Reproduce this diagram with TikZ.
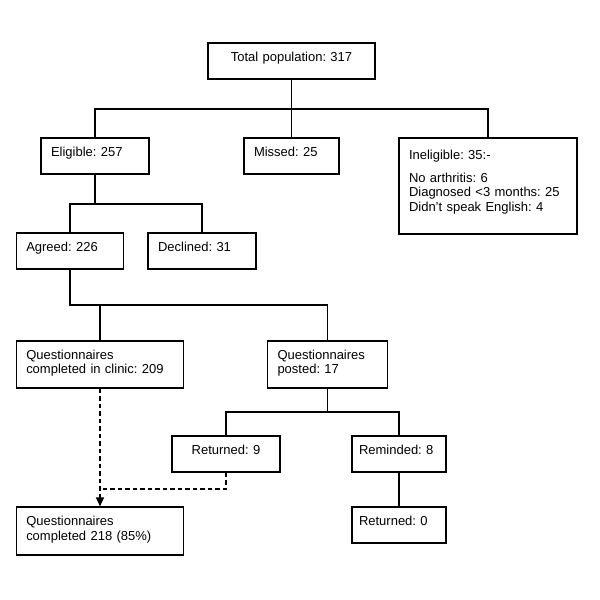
\documentclass[tikz,border=0pt]{standalone}
\usepackage{fontspec}
\setmainfont{Liberation Sans}
\usepackage{tikz}
\usetikzlibrary{arrows.meta}
\frenchspacing
\tikzstyle{flowbox} = [draw=black, line width=1.2pt, rectangle,
inner xsep=10pt, inner ysep=0pt, align=left, font=\fontsize{13}{14.5}\selectfont]
\tikzstyle{onebox} = [flowbox, minimum height=36pt, text height=9.5pt, text depth=8.5pt]
\tikzstyle{twobox} = [flowbox, minimum height=47pt, text depth=19.5pt]
\tikzstyle{link} = [line width=1.2pt]
\tikzstyle{dashlink} = [line width=1.2pt, dash pattern=on 4.5pt off 3pt]

\begin{document}
\begin{tikzpicture}[x=1pt, y=-1pt]
    \useasboundingbox (0,0) rectangle (600,600);
    \node[onebox, text width=147pt, align=center] (total) at (291.5,61) {Total population: 317};
    \node[onebox, text width=88pt] (eligible) at (95,156) {Eligible: 257};
    \node[onebox, text width=75pt] (missed) at (291.5,156) {Missed: 25};
    \node[flowbox, text width=158pt, minimum height=96pt, text depth=62pt] (inelig) at (488,186)
        {Ineligible: 35:-\\[8pt]No arthritis: 6\\Diagnosed <3 months: 25\\Didn’t speak English: 4};
    \node[onebox, text width=87.5pt] (agreed) at (70,251) {Agreed: 226};
    \node[onebox, text width=88pt] (declined) at (202,251) {Declined: 31};
    \node[twobox, text width=147.5pt] (clinic) at (100,364.5) {Questionnaires\\completed in clinic: 209};
    \node[twobox, text width=100pt] (posted) at (327.5,364.5) {Questionnaires\\posted: 17};
    \node[onebox, text width=88pt, align=center] (ret9) at (226,454) {Returned: 9};
    \node[onebox, text width=80pt, inner xsep=7pt] (remind) at (399,454) {Reminded: 8};
    \node[onebox, text width=80pt, inner xsep=7pt] (ret0) at (399,525) {Returned: 0};
    \node[twobox, text width=147.5pt, minimum height=48pt] (final) at (100,531) {Questionnaires\\completed 218 (85\%)};

    \coordinate (bar1) at (0,109);
    \coordinate (bar2) at (0,204);
    \coordinate (bar3) at (0,305);
    \coordinate (bar4) at (0,412);
    \coordinate (bar5) at (0,489);

    \draw[link] (total.south) -- (total.south |- bar1);
    \draw[link] (eligible.north) |- (inelig.north |- bar1) -- (inelig.north);
    \draw[link] (missed.north) -- (missed.north |- bar1);
    \draw[link] (eligible.south) -- (eligible.south |- bar2);
    \draw[link] (agreed.north) |- (declined.north |- bar2) -- (declined.north);
    \draw[link] (agreed.south) |- (posted.north |- bar3) -- (posted.north);
    \draw[link] (clinic.north) -- (clinic.north |- bar3);
    \draw[link] (posted.south) -- (posted.south |- bar4);
    \draw[link] (ret9.north) |- (remind.north |- bar4) -- (remind.north);
    \draw[link] (remind.south) -- (ret0.north);
    \draw[dashlink, -{Triangle[length=9pt, width=8pt]}] (clinic.south) -- (final.north);
    \draw[dashlink] (ret9.south) |- (clinic.south |- bar5);
\end{tikzpicture}
\end{document}
